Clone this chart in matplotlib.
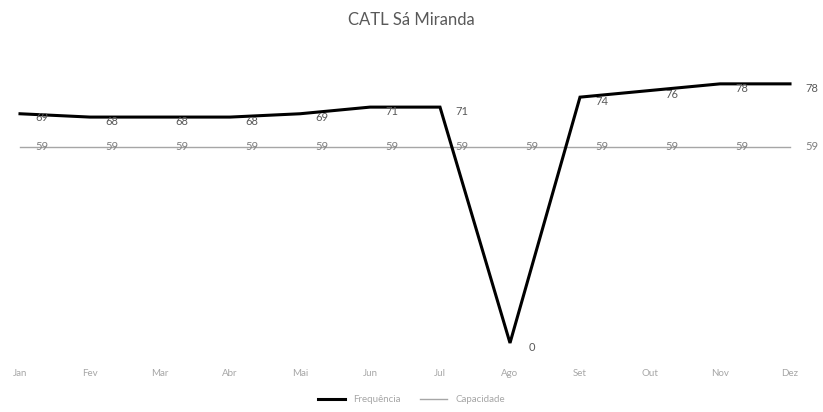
import matplotlib.pyplot as plt

# dados
meses = ["Jan", "Fev", "Mar", "Abr", "Mai", "Jun", "Jul", "Ago", "Set", "Out", "Nov", "Dez"]
frequencia = [69, 68, 68, 68, 69, 71, 71, 0, 74, 76, 78, 78]
capacidade = [59, 59, 59, 59, 59, 59, 59, 59, 59, 59, 59, 59]

plt.rcParams['font.family'] = ['Lato', 'DejaVu Sans']

fig = plt.figure(figsize=(8.23, 4.12), dpi=100)
ax = fig.add_axes([0.0243, 0.1675, 0.9356, 0.6854])

x = list(range(len(meses)))
ax.plot(x, frequencia, color='black', lw=2.2, label='Frequência', clip_on=False,
        solid_joinstyle='miter', zorder=3)
ax.plot(x, capacidade, color='#a6a6a6', lw=1.0, label='Capacidade', clip_on=False, zorder=2)

# rótulos de dados
for xi, v in zip(x, frequencia):
    ax.annotate(str(v), (xi, v), xytext=(16, -3), textcoords='offset points',
                ha='center', va='center', fontsize=8, color='#595959', zorder=4)
for xi, v in zip(x, capacidade):
    ax.annotate(str(v), (xi, v), xytext=(16, 0), textcoords='offset points',
                ha='center', va='center', fontsize=8, color='#7f7f7f', zorder=4)

ax.set_xlim(0, 11)
ax.set_ylim(0, 85)
ax.set_xticks(x)
ax.set_xticklabels(meses, fontsize=7, color='#a6a6a6')
ax.tick_params(axis='x', length=0, pad=19)
ax.set_yticks([])
for s in ax.spines.values():
    s.set_visible(False)

fig.suptitle("CATL Sá Miranda", x=0.5, y=0.97, fontsize=12, color='#595959')
fig.legend(loc='center', bbox_to_anchor=(0.5, 0.03), ncol=2, frameon=False,
           fontsize=7, labelcolor='#a6a6a6', handlelength=2.8, columnspacing=2.0)

plt.savefig("out.png", dpi=100)
